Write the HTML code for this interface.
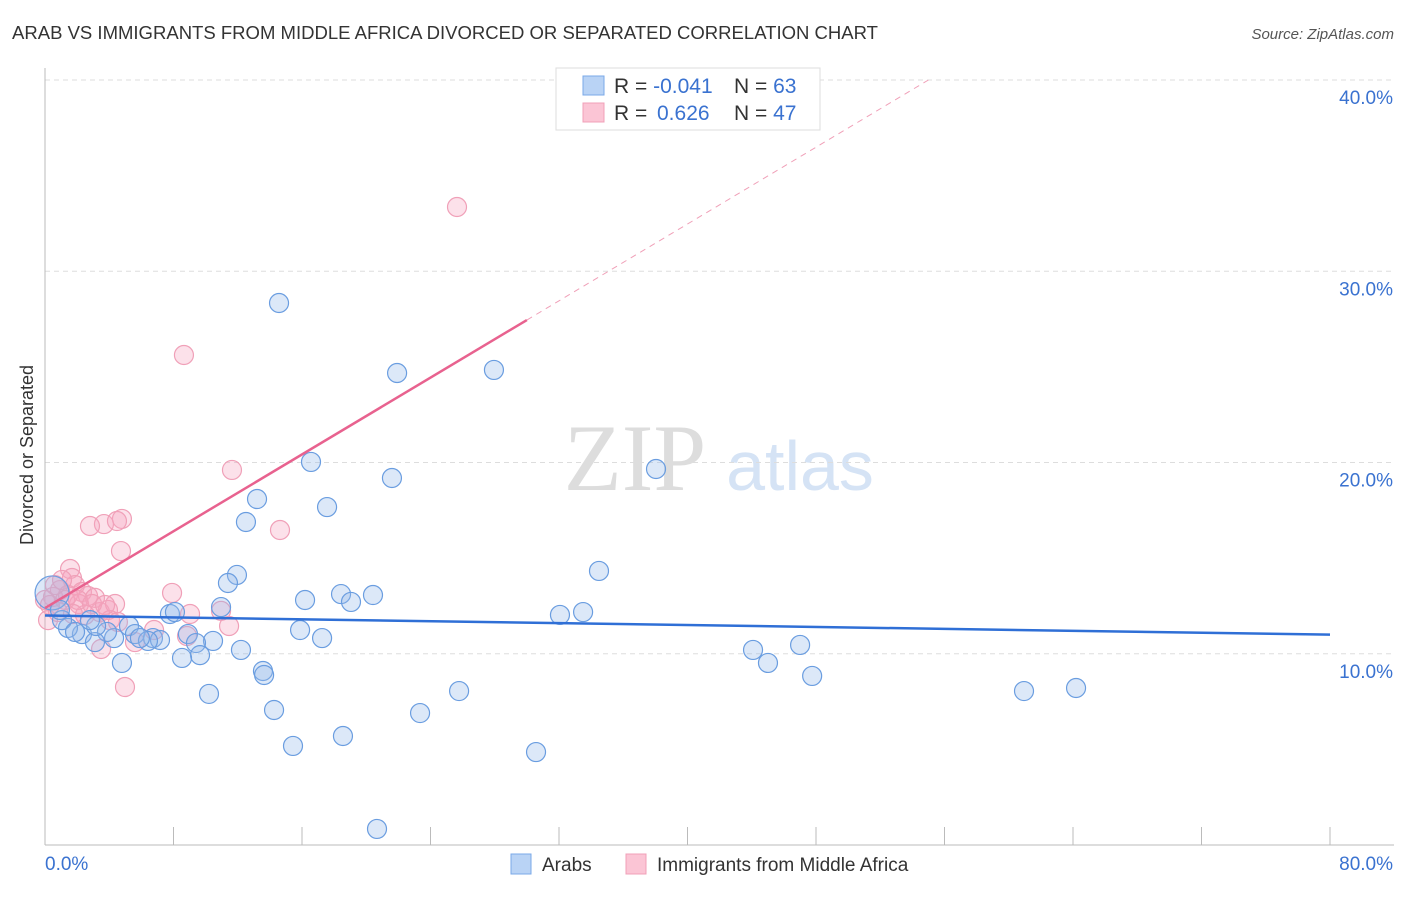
<!DOCTYPE html>
<html><head><meta charset="utf-8"><style>
body{margin:0;background:#fff;font-family:"Liberation Sans",sans-serif}
</style></head><body>
<svg id="chart" width="1406" height="892" xmlns="http://www.w3.org/2000/svg" font-family="Liberation Sans, sans-serif">
<text x="12" y="39" font-size="18" fill="#333" textLength="866" lengthAdjust="spacingAndGlyphs">ARAB VS IMMIGRANTS FROM MIDDLE AFRICA DIVORCED OR SEPARATED CORRELATION CHART</text>
<text x="1394" y="39" font-size="15" fill="#555" font-style="italic" text-anchor="end">Source: ZipAtlas.com</text>
<text x="33" y="455" font-size="18" fill="#333" text-anchor="middle" transform="rotate(-90 33 455)">Divorced or Separated</text>
<g>
<text x="635" y="490" font-size="95" fill="#ddd" font-family="Liberation Serif, serif" text-anchor="middle">ZIP</text>
<text x="800" y="490" font-size="70" fill="#d5e3f5" text-anchor="middle">atlas</text>
</g>
<g id="grid"></g><g id="axes"></g><g id="pts"></g><g id="lines"></g>
<g>
<rect x="556" y="68" width="264" height="62" fill="#fff" stroke="#ddd"/>
<rect x="583" y="76" width="21" height="19" fill="#b9d3f5" stroke="#7aa8e8"/>
<rect x="583" y="103" width="21" height="19" fill="#fbc5d5" stroke="#f0a0b8"/>
<text x="614" y="93" font-size="21" fill="#333">R = <tspan fill="#3a72d0">-0.041</tspan><tspan x="734">N = </tspan><tspan fill="#3a72d0">63</tspan></text>
<text x="614" y="120" font-size="21" fill="#333">R = <tspan x="657" fill="#3a72d0">0.626</tspan><tspan x="734">N = </tspan><tspan fill="#3a72d0">47</tspan></text>
</g>
<g>
<rect x="511" y="854" width="20" height="20" fill="#b9d3f5" stroke="#7aa8e8"/>
<text x="542" y="871" font-size="19" fill="#333">Arabs</text>
<rect x="626" y="854" width="20" height="20" fill="#fbc5d5" stroke="#f0a0b8"/>
<text x="657" y="871" font-size="19" fill="#333">Immigrants from Middle Africa</text>
</g>
</svg>
<script>
const yTicks=[10,20,30,40];
const yTickLabels=["10.0%","20.0%","30.0%","40.0%"];
const xTickLabels=["0.0%","80.0%"];
const arabX=[14.57,21.92,27.95,38.04,21.6,16.56,13.2,17.56,12.51,11.95,11.39,34.49,18.43,20.42,16.19,19.05,10.96,7.78,8.09,33.5,32.06,15.88,17.25,8.9,5.23,5.6,6.72,7.16,6.41,10.46,9.4,4.3,3.86,2.3,1.43,1.06,0.44,3.11,12.2,9.65,8.53,4.79,44.08,47.01,45.01,13.57,13.64,47.76,10.21,25.78,60.95,64.19,14.26,23.35,18.55,15.44,30.57,20.67,3.18,0.93,1.87,2.8,5.91];
const arabY=[28.34,24.68,24.84,19.66,19.19,20.03,18.09,17.67,16.89,14.12,13.7,14.33,13.12,13.07,12.81,12.71,12.44,12.08,12.18,12.18,12.03,11.24,10.82,11.03,11.45,11.03,10.82,10.72,10.67,10.67,10.56,10.82,11.14,11.03,11.35,11.76,13.18,10.61,10.2,9.93,9.78,9.52,10.2,10.46,9.52,9.1,8.89,8.84,7.9,8.05,8.05,8.21,7.06,6.9,5.7,5.18,4.86,0.84,11.45,12.29,11.14,11.76,10.82];
const immX=[25.65,8.65,11.64,14.63,4.79,3.67,2.8,4.48,4.73,1.56,1.68,1.87,0.93,2.3,0.5,0.31,1.25,2.68,2.12,3.42,3.92,3.11,4.36,7.91,0.81,10.96,11.46,9.03,6.79,5.6,3.49,4.98,8.84,4.05,0.19,2.49,1.43,0.62,1.06,2.05,2.93,3.74,0,1.74,4.54];
const immY=[33.36,25.62,19.61,16.47,17.05,16.78,16.68,16.94,15.37,14.43,13.96,13.59,13.33,13.23,12.97,12.55,12.81,13.02,12.6,12.18,12.29,12.92,12.6,13.18,12.18,12.24,11.45,12.08,11.24,10.61,10.25,8.26,10.93,11.76,11.76,12.03,13.07,13.59,13.86,12.81,12.6,12.55,12.81,12.08,11.66];
const arabLine=[12.0,11.0];
const immLine=[12.39,0.502];
const NS="http://www.w3.org/2000/svg";
const X=v=>45+v*1285/80, Y=v=>845-v*19.125;
function mk(t,a,p){const e=document.createElementNS(NS,t);for(const k in a)e.setAttribute(k,a[k]);document.getElementById(p).appendChild(e);return e;}
yTicks.forEach((t,i)=>{
 const g=mk('line',{x1:45,x2:1394,y1:Y(t),y2:Y(t),stroke:'#ddd','stroke-dasharray':'5,4'},'grid');
 
 
 const l=mk('text',{x:1393,y:Y(t)+24,'font-size':19,fill:'#3a72d0','text-anchor':'end'},'axes');l.textContent=yTickLabels[i];
 
 
});
let ax=mk('line',{x1:45,x2:45,y1:68,y2:845,stroke:'#bbb'},'axes');


ax=mk('line',{x1:45,x2:1394,y1:845,y2:845,stroke:'#bbb'},'axes');


for(let i=0;i<=10;i++){const x=X(i*8);const t=mk('line',{x1:x,x2:x,y1:827,y2:845,stroke:'#bbb'},'axes');
 
 }
[[0,'start',45],[80,'end',1393]].forEach((d,i)=>{const l=mk('text',{x:d[2],y:870,'font-size':19,fill:'#3a72d0','text-anchor':d[1]},'axes');l.textContent=xTickLabels[i];
 
 });
immX.forEach((v,i)=>{const c=mk('circle',{cx:X(v),cy:Y(immY[i]),r:9.5,fill:'rgba(245,165,190,0.33)',stroke:'#f0a0b8','stroke-width':1.2},'pts');
 
 });
arabX.forEach((v,i)=>{const c=mk('circle',{cx:X(v),cy:Y(arabY[i]),r:i==36?17:9.5,fill:'rgba(150,185,235,0.33)',stroke:'#6a9de0','stroke-width':1.2},'pts');
 
 });
let ln=mk('line',{x1:X(0),y1:Y(arabLine[0]),x2:X(80),y2:Y(arabLine[1]),stroke:'#2f6fd6','stroke-width':2.5},'lines');


const xe=(40-immLine[0])/immLine[1];
ln=mk('line',{x1:X(0),y1:Y(immLine[0]),x2:X(30),y2:Y(immLine[0]+30*immLine[1]),stroke:'#e8628f','stroke-width':2.5},'lines');


ln=mk('line',{x1:X(30),y1:Y(immLine[0]+30*immLine[1]),x2:X(xe),y2:Y(40),stroke:'#f0a0b8','stroke-width':1,'stroke-dasharray':'6,5'},'lines');


</script>
</body></html>
